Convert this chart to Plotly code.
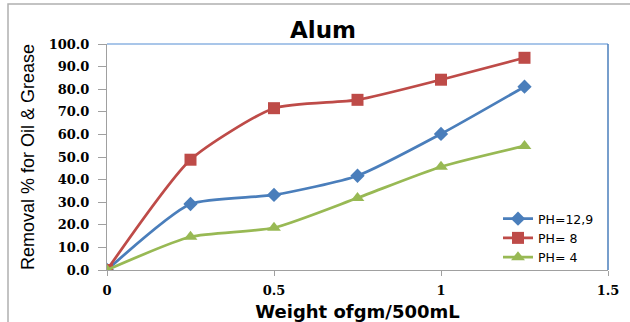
import plotly.graph_objects as go

weights = [0, 0.25, 0.5, 0.75, 1.0, 1.25]
ph_12_9 = [0, 29.2, 33.2, 41.7, 60.2, 81.1]
ph_8 = [0, 48.8, 71.6, 75.3, 84.2, 93.9]
ph_4 = [0, 14.7, 18.7, 31.9, 45.7, 54.9]

series = [
    ("PH=12,9", ph_12_9, "#4a7ebb", "diamond", 11),
    ("PH= 8", ph_8, "#be4b48", "square", 12),
    ("PH= 4", ph_4, "#98b954", "triangle-up", 12),
]

fig = go.Figure()
for name, vals, color, sym, size in series:
    fig.add_trace(go.Scatter(
        x=weights, y=vals, name=name, mode="lines+markers",
        line=dict(color=color, width=2.75, shape="spline", smoothing=0.6),
        marker=dict(symbol=sym, size=size, color=color),
    ))

L, R, T, B = 107, 22, 44, 52
W, H = 630, 322
pw = W - L - R
ph = H - T - B

tickfont = dict(family="DejaVu Serif", size=13, color="black", weight="bold")

fig.update_layout(
    width=W, height=H,
    margin=dict(l=L, r=R, t=T, b=B, autoexpand=False),
    paper_bgcolor="white", plot_bgcolor="white",
    title=dict(text="<b>Alum</b>", x=323 / W, xanchor="center",
               y=1 - 30 / H, yanchor="middle",
               font=dict(family="DejaVu Sans", size=23, color="black")),
    showlegend=True,
    legend=dict(x=(498 - L) / pw, xanchor="left", y=(H - B - 204) / ph, yanchor="top",
                bgcolor="rgba(255,255,255,0)",
                font=dict(family="DejaVu Sans", size=12.5, color="black"),
                tracegroupgap=0),
    xaxis=dict(range=[0, 1.5], dtick=0.5, tick0=0, showgrid=False, zeroline=False,
               showline=True, linecolor="#a0a0a0", linewidth=1, automargin=False,
               ticks="outside", ticklen=5, tickcolor="#a0a0a0", ticklabelstandoff=3,
               tickfont=tickfont,
               title=dict(text="<b>Weight ofgm/500mL</b>", standoff=10,
                          font=dict(family="DejaVu Sans", size=18, color="black"))),
    yaxis=dict(range=[0, 100], dtick=10, showgrid=False, zeroline=False,
               showline=True, linecolor="#a0a0a0", linewidth=1, automargin=False,
               ticks="outside", ticklen=8, tickcolor="#a0a0a0", tickformat=".1f",
               ticklabelstandoff=6,
               tickfont=tickfont,
               title=dict(text="Removal % for Oil & Grease", standoff=9,
                          font=dict(family="Liberation Sans", size=18, color="black"))),
)

# top/right frame in light blue
fig.add_shape(type="line", xref="paper", yref="paper", x0=0, x1=1, y0=1, y1=1,
              line=dict(color="#8db3e2", width=1.5))
fig.add_shape(type="line", xref="paper", yref="paper", x0=1, x1=1, y0=0, y1=1,
              line=dict(color="#4a7ebb", width=1.5))
# outer chart border
fig.add_shape(type="rect", xref="paper", yref="paper",
              x0=(8 - L) / pw, x1=(640 - L) / pw, y0=(H - B - 330) / ph, y1=(H - B - 4) / ph,
              line=dict(color="#b0b0b0", width=1.5), fillcolor="rgba(0,0,0,0)", layer="below")

fig.write_html("out.html")
